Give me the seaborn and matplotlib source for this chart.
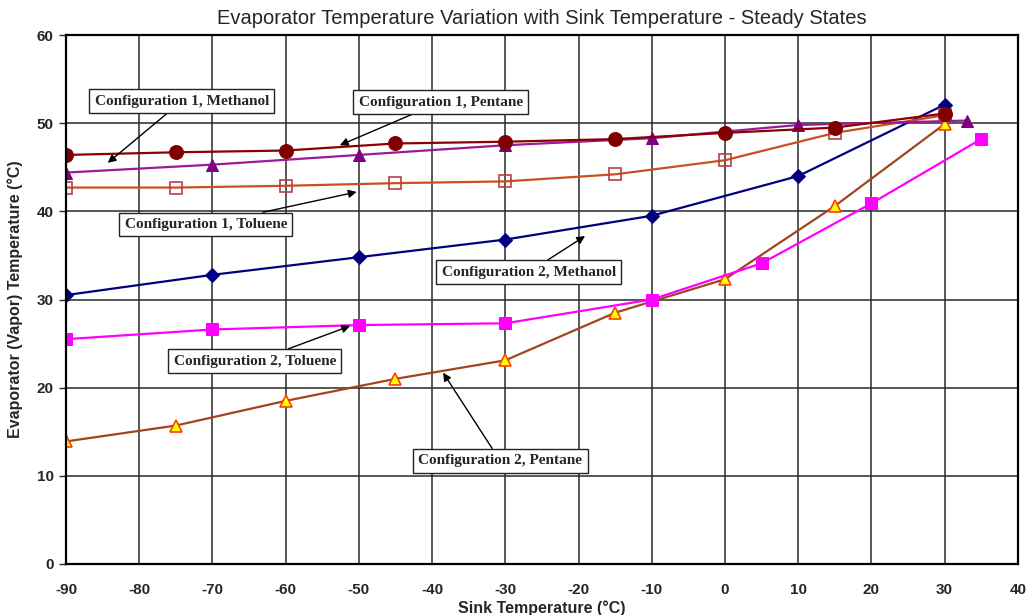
import matplotlib
matplotlib.use("Agg")
import matplotlib.pyplot as plt
import seaborn as sns
import pandas as pd

# ---- data ----
c1_meth_x = [-90, -70, -50, -30, -10, 10, 33]
c1_meth_y = [44.4, 45.3, 46.4, 47.5, 48.3, 49.8, 50.3]

c1_pent_x = [-90, -75, -60, -45, -30, -15, 0, 15, 30]
c1_pent_y = [46.4, 46.7, 46.9, 47.7, 47.9, 48.2, 48.9, 49.5, 51.1]

c1_tol_x = [-90, -75, -60, -45, -30, -15, 0, 15, 30]
c1_tol_y = [42.7, 42.7, 42.9, 43.2, 43.4, 44.2, 45.8, 48.9, 50.9]

c2_meth_x = [-90, -70, -50, -30, -10, 10, 30]
c2_meth_y = [30.5, 32.8, 34.8, 36.8, 39.5, 44.0, 52.1]

c2_tol_x = [-90, -70, -50, -30, -10, 5, 20, 35]
c2_tol_y = [25.5, 26.6, 27.1, 27.3, 30.0, 34.1, 40.9, 48.2]

c2_pent_x = [-90, -75, -60, -45, -30, -15, 0, 15, 30]
c2_pent_y = [13.9, 15.7, 18.5, 21.0, 23.1, 28.5, 32.3, 40.6, 49.9]

x_ticks = list(range(-90, 41, 10))
y_ticks = list(range(0, 61, 10))

title = "Evaporator Temperature Variation with Sink Temperature - Steady States"
xlabel = "Sink Temperature (°C)"
ylabel = "Evaporator (Vapor) Temperature (°C)"

labels = [
    ("Configuration 1, Methanol", (-74.2, 52.5), (-84.3, 45.5)),
    ("Configuration 1, Pentane", (-38.8, 52.4), (-52.6, 47.5)),
    ("Configuration 1, Toluene", (-70.9, 38.5), (-50.3, 42.2)),
    ("Configuration 2, Methanol", (-26.8, 33.1), (-19.1, 37.2)),
    ("Configuration 2, Toluene", (-64.2, 23.0), (-51.2, 27.0)),
    ("Configuration 2, Pentane", (-30.7, 11.7), (-38.5, 21.7)),
]

# ---- plot ----
sns.set_theme(style="white")
plt.rcParams["font.family"] = ["Liberation Sans", "DejaVu Sans"]

fig = plt.figure(figsize=(10.27, 6.15), dpi=100)
ax = fig.add_axes([0.0643, 0.083, 0.9267, 0.860])

def series(x, y, **kw):
    df = pd.DataFrame({"x": x, "y": y})
    sns.lineplot(data=df, x="x", y="y", ax=ax, sort=False, linewidth=1.6, **kw)

series(c2_pent_x, c2_pent_y, color="#a0461e", marker="^", markersize=9,
       markerfacecolor="#ffff00", markeredgecolor="#ff4000", markeredgewidth=1.2)
series(c2_tol_x, c2_tol_y, color="#ff00ff", marker="s", markersize=8,
       markerfacecolor="#ff00ff", markeredgecolor="#ff00ff")
series(c2_meth_x, c2_meth_y, color="#000080", marker="D", markersize=7.5,
       markerfacecolor="#000080", markeredgecolor="#000080")
series(c1_tol_x, c1_tol_y, color="#c8501e", marker="s", markersize=9,
       markerfacecolor="none", markeredgecolor="#b84040", markeredgewidth=1.2)
series(c1_meth_x, c1_meth_y, color="#9a1a9a", marker="^", markersize=9,
       markerfacecolor="#800080", markeredgecolor="#800080")
series(c1_pent_x, c1_pent_y, color="#8b0000", marker="o", markersize=10,
       markerfacecolor="#800000", markeredgecolor="#800000")

ax.set_xlim(-90, 40)
ax.set_ylim(0, 60)
ax.set_xticks(x_ticks)
ax.set_yticks(y_ticks)
ax.set_xticklabels([str(v) for v in x_ticks])
ax.set_yticklabels([str(v) for v in y_ticks])
ax.grid(True, color="#2a2a2a", linewidth=1.1)
ax.set_axisbelow(True)
for s in ax.spines.values():
    s.set_color("black")
    s.set_linewidth(1.6)
ax.tick_params(axis="x", length=0, pad=14, labelsize=11)
ax.tick_params(axis="y", length=5, width=1, direction="out", left=True, pad=4, labelsize=11)
for lab in ax.get_xticklabels() + ax.get_yticklabels():
    lab.set_fontweight("bold")

ax.set_title(title, fontsize=14.5, pad=8)
ax.set_xlabel(xlabel, fontsize=11.5, fontweight="bold", labelpad=2)
ax.set_ylabel(ylabel, fontsize=11.5, fontweight="bold", labelpad=10)

for text, xy_text, xy_tip in labels:
    ax.annotate(text, xy=xy_tip, xytext=xy_text, ha="center", va="center",
                fontsize=11, fontweight="bold",
                family=["Liberation Serif", "DejaVu Serif"],
                bbox=dict(boxstyle="square,pad=0.35", fc="white", ec="#222222", lw=1),
                arrowprops=dict(arrowstyle="-|>", color="black", lw=1,
                                mutation_scale=12, shrinkA=0, shrinkB=0),
                zorder=10)

fig.savefig("out.png", dpi=100)
